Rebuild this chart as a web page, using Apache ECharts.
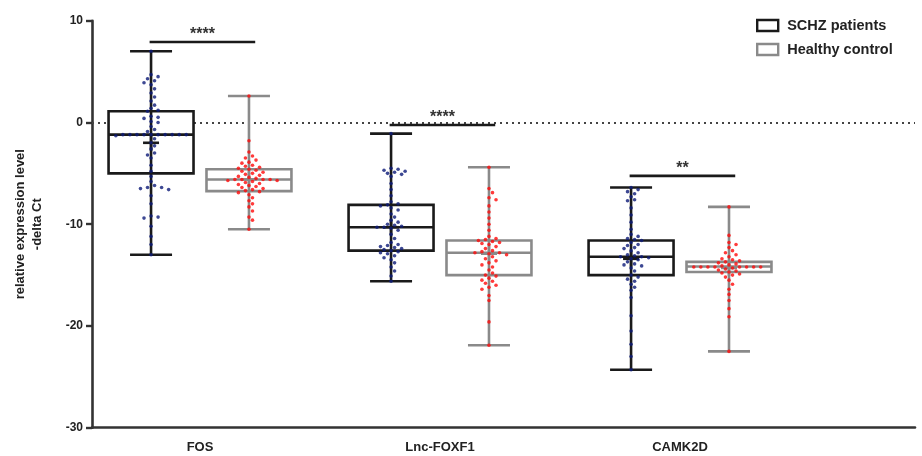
<!DOCTYPE html>
<html>
<head>
<meta charset="utf-8">
<script src="https://cdn.jsdelivr.net/npm/echarts@6/dist/echarts.min.js"></script>
<style>html,body{margin:0;padding:0;background:#fff;}#c{width:922px;height:456px;}</style>
</head>
<body>
<div id="c"></div>
<script>
var categories = ['FOS', 'Lnc-FOXF1', 'CAMK2D'];
var seriesNames = ['SCHZ patients', 'Healthy control'];
var yTicks = [-30, -20, -10, 0, 10];

// box stats: [min, q1, median, q3, max]
var patientsBox = [[-13.0, -5.0, -1.2, 1.1, 7.0], [-15.6, -12.6, -10.3, -8.1, -1.1], [-24.3, -15.0, -13.2, -11.6, -6.4]];
var controlBox = [[-10.5, -6.75, -5.6, -4.6, 2.6], [-21.9, -15.0, -12.8, -11.6, -4.4], [-22.5, -14.7, -14.15, -13.7, -8.3]];
var patientMeans = [-2.0, -10.3, -13.4];
var controlMeans = [-5.6, -12.9, -14.3];

var fosPatients = [7.0, 4.7, 4.5, 4.3, 4.1, 3.9, 3.7, 3.3, 2.9, 2.5, 2.1, 1.7, 1.4, 1.2, 1.1, 0.6, 0.5, 0.4, 0.1, 0.0, -0.4, -0.7, -0.9, -1.2, -1.2, -1.2, -1.2, -1.2, -1.2, -1.2, -1.2, -1.2, -1.2, -1.3, -1.6, -2.0, -2.3, -2.6, -3.0, -3.2, -3.5, -4.2, -4.8, -5.3, -5.8, -6.2, -6.4, -6.4, -6.5, -6.6, -7.2, -8.0, -9.2, -9.3, -9.4, -10.2, -11.2, -12.0, -13.0];
var fosControl = [2.6, -1.8, -2.9, -3.3, -3.5, -3.7, -3.9, -4.0, -4.2, -4.3, -4.4, -4.5, -4.6, -4.7, -4.8, -4.9, -5.0, -5.1, -5.2, -5.3, -5.4, -5.5, -5.6, -5.6, -5.6, -5.6, -5.7, -5.7, -5.8, -5.9, -6.0, -6.1, -6.2, -6.3, -6.4, -6.5, -6.6, -6.7, -6.8, -6.9, -7.1, -7.4, -7.7, -8.0, -8.3, -8.7, -9.3, -9.6, -10.5];
var lncPatients = [-1.1, -4.5, -4.6, -4.7, -4.8, -4.9, -5.0, -5.1, -5.3, -6.0, -6.6, -7.2, -7.8, -8.0, -8.1, -8.2, -8.4, -8.6, -9.0, -9.3, -9.6, -9.8, -10.0, -10.1, -10.2, -10.3, -10.3, -10.4, -10.6, -11.0, -11.4, -11.8, -12.0, -12.1, -12.2, -12.3, -12.4, -12.5, -12.6, -12.7, -12.8, -12.9, -13.1, -13.3, -13.5, -13.8, -14.2, -14.6, -15.1, -15.6];
var lncControl = [-4.4, -6.5, -6.9, -7.4, -7.6, -8.2, -8.8, -9.4, -10.0, -10.6, -11.2, -11.4, -11.5, -11.6, -11.7, -11.8, -11.9, -12.0, -12.2, -12.4, -12.6, -12.7, -12.8, -12.8, -12.9, -13.0, -13.2, -13.4, -13.6, -13.8, -14.0, -14.2, -14.5, -14.8, -15.0, -15.1, -15.3, -15.5, -15.6, -15.8, -16.0, -16.2, -16.4, -17.0, -17.5, -19.6, -21.9];
var camkPatients = [-6.4, -6.6, -6.8, -7.0, -7.3, -7.6, -7.7, -8.4, -9.1, -9.8, -10.5, -11.0, -11.2, -11.4, -11.5, -11.6, -11.8, -12.0, -12.1, -12.3, -12.4, -12.6, -12.8, -13.0, -13.1, -13.2, -13.2, -13.3, -13.4, -13.5, -13.7, -13.9, -14.0, -14.1, -14.3, -14.6, -15.0, -15.2, -15.4, -15.6, -15.9, -16.2, -16.5, -17.2, -19.0, -20.5, -21.8, -23.0, -24.3];
var camkControl = [-8.3, -11.1, -11.8, -12.0, -12.3, -12.6, -12.8, -13.0, -13.2, -13.4, -13.5, -13.6, -13.7, -13.8, -13.9, -14.0, -14.1, -14.2, -14.2, -14.2, -14.2, -14.2, -14.2, -14.2, -14.2, -14.3, -14.4, -14.5, -14.6, -14.7, -14.8, -14.9, -15.0, -15.2, -15.5, -15.9, -16.4, -16.9, -17.5, -18.3, -19.1, -22.5];

var patientPoints = [fosPatients, lncPatients, camkPatients];
var controlPoints = [fosControl, lncControl, camkControl];

var sigLevels = [7.9, -0.25, -5.25];
var sigLabels = ['****', '****', '**'];

// layout constants
var OFFSET = 0.204, BOXW = 0.354, CAPW = 0.175;
var PAT_LINE = '#1a1a1a', CTL_LINE = '#8a8a8a';
var PAT_DOT = '#0d1a78', CTL_DOT = '#ff0a0a';
var FONT = '"Liberation Sans", Arial, sans-serif';

var chart = echarts.init(document.getElementById('c'));

function boxData(stats, means, sign) {
  return stats.map(function (s, i) { return [i + sign * OFFSET, s[0], s[1], s[2], s[3], s[4], means[i]]; });
}

function boxRender(color) {
  return function (params, api) {
    var x = api.value(0);
    var pMin = api.coord([x, api.value(1)]);
    var pQ1 = api.coord([x, api.value(2)]);
    var pMed = api.coord([x, api.value(3)]);
    var pQ3 = api.coord([x, api.value(4)]);
    var pMax = api.coord([x, api.value(5)]);
    var pMean = api.coord([x, api.value(6)]);
    var hw = api.size([BOXW, 0])[0] / 2;
    var cw = api.size([CAPW, 0])[0] / 2;
    var st = { stroke: color, lineWidth: 2.6, fill: null };
    var cx = pMin[0];
    return {
      type: 'group',
      children: [
        { type: 'line', shape: { x1: cx, y1: pMin[1], x2: cx, y2: pMax[1] }, style: st },
        { type: 'line', shape: { x1: cx - cw, y1: pMin[1], x2: cx + cw, y2: pMin[1] }, style: st },
        { type: 'line', shape: { x1: cx - cw, y1: pMax[1], x2: cx + cw, y2: pMax[1] }, style: st },
        { type: 'rect', shape: { x: cx - hw, y: pQ3[1], width: hw * 2, height: pQ1[1] - pQ3[1] }, style: { stroke: color, lineWidth: 2.6, fill: '#fff' } },
        { type: 'line', shape: { x1: cx - hw, y1: pMed[1], x2: cx + hw, y2: pMed[1] }, style: st },
        { type: 'line', shape: { x1: cx, y1: pQ1[1], x2: cx, y2: pQ3[1] }, style: st },
        { type: 'line', shape: { x1: cx - 8, y1: pMean[1], x2: cx + 8, y2: pMean[1] }, style: st },
        { type: 'line', shape: { x1: cx, y1: pMean[1] - 8, x2: cx, y2: pMean[1] + 8 }, style: st }
      ]
    };
  };
}

function sigRender(params, api) {
  var a = api.coord([api.value(0), api.value(2)]);
  var b = api.coord([api.value(1), api.value(2)]);
  return {
    type: 'group',
    children: [
      { type: 'line', shape: { x1: a[0], y1: a[1], x2: b[0], y2: b[1] }, style: { stroke: '#1a1a1a', lineWidth: 2.6 } },
      { type: 'text', x: (a[0] + b[0]) / 2, y: a[1] + 1, style: { text: sigLabels[params.dataIndex], font: 'bold 16px ' + FONT, fill: '#333', align: 'center', verticalAlign: 'bottom' } }
    ]
  };
}

var baseOption = {
  animation: false,
  backgroundColor: '#fff',
  grid: { left: 92, right: 7, top: 20.7, bottom: 28.3 },
  legend: {
    orient: 'vertical', left: 751, top: 13, itemWidth: 21, itemHeight: 11, itemGap: 9,
    textStyle: { fontFamily: FONT, fontWeight: 'bold', fontSize: 14.5, color: '#222', padding: [0, 0, 0, 4] },
    data: [
      { name: seriesNames[0], icon: 'rect', itemStyle: { color: '#fff', borderColor: PAT_LINE, borderWidth: 2.4 } },
      { name: seriesNames[1], icon: 'rect', itemStyle: { color: '#fff', borderColor: CTL_LINE, borderWidth: 2.4 } }
    ]
  },
  xAxis: {
    type: 'value', min: -0.45, max: 2.979,
    axisLine: { show: true, onZero: false, lineStyle: { color: '#333', width: 2.6 } },
    axisTick: { show: false },
    splitLine: { show: false },
    axisLabel: {
      customValues: [0, 1, 2],
      formatter: function (v) { return categories[Math.round(v)] || ''; },
      fontFamily: FONT, fontWeight: 'bold', fontSize: 13, color: '#222', margin: 13
    }
  },
  yAxis: {
    type: 'value', min: yTicks[0], max: yTicks[yTicks.length - 1], interval: 10,
    name: 'relative expression level\n-delta Ct', nameLocation: 'middle', nameGap: 46, nameRotate: 90,
    nameTextStyle: { fontFamily: FONT, fontWeight: 'bold', fontSize: 13, color: '#222', lineHeight: 17 },
    axisLine: { show: true, onZero: false, lineStyle: { color: '#333', width: 2.6 } },
    axisTick: { show: true, length: 6, lineStyle: { color: '#333', width: 2.4 } },
    splitLine: { show: false },
    axisLabel: { fontFamily: FONT, fontWeight: 'bold', fontSize: 12, color: '#222', margin: 9 }
  }
};

chart.setOption(baseOption);

// deterministic beeswarm in pixel space
var o0 = chart.convertToPixel({ gridIndex: 0 }, [0, 0]);
var o1 = chart.convertToPixel({ gridIndex: 0 }, [1, 1]);
var pxX = o1[0] - o0[0], pxY = o0[1] - o1[1];
var DOT = 3.6;
var SEP = 4.4;

function swarm(values, center) {
  var placed = [];
  var out = [];
  values.forEach(function (v) {
    var y = v * pxY;
    var k = 0, found = false, off = 0;
    while (!found) {
      var candidates = k === 0 ? [0] : [k * SEP * 0.8, -k * SEP * 0.8];
      for (var c = 0; c < candidates.length; c++) {
        var ok = true;
        for (var j = 0; j < placed.length; j++) {
          var dx = placed[j][0] - candidates[c], dy = placed[j][1] - y;
          if (dx * dx + dy * dy < SEP * SEP) { ok = false; break; }
        }
        if (ok) { off = candidates[c]; found = true; break; }
      }
      k++;
    }
    placed.push([off, y]);
    out.push([center + off / pxX, v]);
  });
  return out;
}

var patientScatter = [], controlScatter = [];
for (var i = 0; i < categories.length; i++) {
  patientScatter = patientScatter.concat(swarm(patientPoints[i], i - OFFSET));
  controlScatter = controlScatter.concat(swarm(controlPoints[i], i + OFFSET));
}

var sigData = sigLevels.map(function (y, i) { return [i - 0.21, i + 0.23, y]; });

chart.setOption({
  series: [
    {
      name: seriesNames[0], type: 'custom', renderItem: boxRender(PAT_LINE), data: boxData(patientsBox, patientMeans, -1), z: 3,
      itemStyle: { color: '#fff', borderColor: PAT_LINE },
      markLine: {
        silent: true, symbol: 'none', label: { show: false }, z: 1,
        lineStyle: { color: '#444', type: [2, 4], width: 2 },
        data: [{ yAxis: 0 }]
      }
    },
    { name: seriesNames[1], type: 'custom', renderItem: boxRender(CTL_LINE), data: boxData(controlBox, controlMeans, 1), z: 3, itemStyle: { color: '#fff', borderColor: CTL_LINE } },
    { name: 'pts', type: 'scatter', data: patientScatter, symbol: 'circle', symbolSize: DOT, itemStyle: { color: PAT_DOT }, z: 5, silent: true },
    { name: 'ctl', type: 'scatter', data: controlScatter, symbol: 'circle', symbolSize: DOT, itemStyle: { color: CTL_DOT }, z: 5, silent: true },
    { name: 'sig', type: 'custom', renderItem: sigRender, data: sigData, z: 6, silent: true }
  ]
});
</script>
</body>
</html>
